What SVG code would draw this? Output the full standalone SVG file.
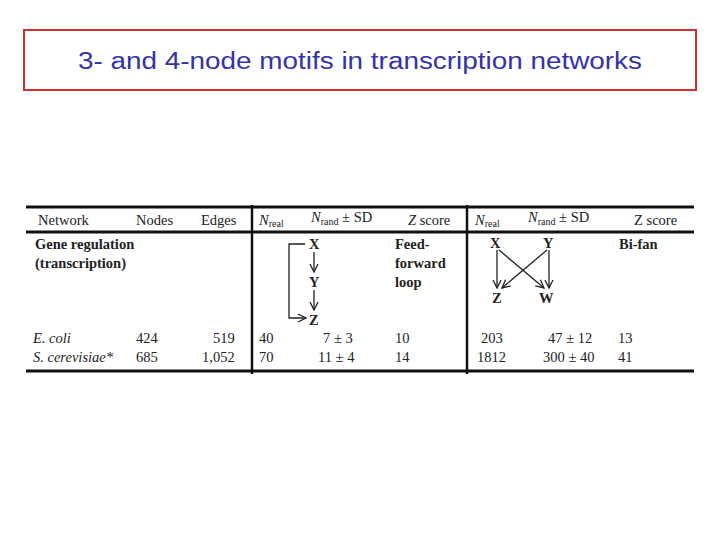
<svg xmlns="http://www.w3.org/2000/svg" width="720" height="540" viewBox="0 0 720 540">
<style>
.t{font-family:"Liberation Serif",serif;font-size:14.5px;fill:#222}
.b{font-weight:bold}
.i{font-style:italic}
.s{font-size:10px}
.l{stroke:#111;fill:none}
.a{stroke:#222;stroke-width:1.3;fill:none}
</style>
<defs><marker id="m" markerWidth="10" markerHeight="10" refX="9" refY="5" orient="auto" markerUnits="userSpaceOnUse"><path d="M1,1 L9,5 L1,9" fill="none" stroke="#222" stroke-width="1.3"/></marker></defs>
<rect x="0" y="0" width="720" height="540" fill="#fff"/>
<g id="title"><rect x="24" y="30" width="672" height="60" fill="#fff" stroke="#d03030" stroke-width="2"/>
<text x="360" y="69" text-anchor="middle" font-family="Liberation Sans,Arial,sans-serif" font-size="23" textLength="564" lengthAdjust="spacingAndGlyphs" fill="#3333aa">3- and 4-node motifs in transcription networks</text></g>
<g id="table">
<line class="l" x1="26" y1="207" x2="694" y2="207" stroke-width="3"/>
<line class="l" x1="26" y1="232" x2="694" y2="232" stroke-width="3"/>
<line class="l" x1="26" y1="371" x2="694" y2="371" stroke-width="3"/>
<line class="l" x1="252" y1="205" x2="252" y2="374" stroke-width="2.5"/>
<line class="l" x1="467" y1="205" x2="467" y2="374" stroke-width="2.5"/>
<text class="t" x="38" y="225">Network</text><text class="t" x="136" y="225">Nodes</text><text class="t" x="201" y="225">Edges</text>
<text class="t" x="259" y="225"><tspan class="i">N</tspan><tspan class="s" dy="2">real</tspan></text>
<text class="t" x="311" y="222"><tspan class="i">N</tspan><tspan class="s" dy="3">rand</tspan><tspan dy="-3"> ± SD</tspan></text>
<text class="t" x="408" y="225"><tspan class="i">Z</tspan> score</text>
<text class="t" x="475" y="225"><tspan class="i">N</tspan><tspan class="s" dy="2">real</tspan></text>
<text class="t" x="528" y="222"><tspan class="i">N</tspan><tspan class="s" dy="3">rand</tspan><tspan dy="-3"> ± SD</tspan></text>
<text class="t" x="634" y="225">Z score</text>
<text class="t b" x="35" y="249">Gene regulation</text><text class="t b" x="35" y="268">(transcription)</text>
<text class="t i" x="33" y="343">E. coli</text><text class="t" x="136" y="343">424</text><text class="t" x="213" y="343">519</text>
<text class="t" x="259" y="343">40</text><text class="t" x="323" y="343">7 ± 3</text><text class="t" x="395" y="343">10</text>
<text class="t" x="481" y="343">203</text><text class="t" x="548" y="343">47 ± 12</text><text class="t" x="618" y="343">13</text>
<text class="t i" x="33" y="362">S. cerevisiae*</text><text class="t" x="136" y="362">685</text><text class="t" x="202" y="362">1,052</text>
<text class="t" x="259" y="362">70</text><text class="t" x="318" y="362">11 ± 4</text><text class="t" x="395" y="362">14</text>
<text class="t" x="477" y="362">1812</text><text class="t" x="543" y="362">300 ± 40</text><text class="t" x="618" y="362">41</text>
</g>
<g id="ffl">
<text class="t b" x="309" y="249">X</text><text class="t b" x="309" y="287">Y</text><text class="t b" x="309" y="325">Z</text>
<text class="t b" x="395" y="249">Feed-</text><text class="t b" x="395" y="268">forward</text><text class="t b" x="395" y="287">loop</text>
</g>
<g id="bifan">
<text class="t b" x="490" y="248">X</text><text class="t b" x="543" y="248">Y</text><text class="t b" x="492" y="303">Z</text><text class="t b" x="539" y="303">W</text>
<text class="t b" x="619" y="249">Bi-fan</text>
</g>
<g id="connectors">
<line class="a" x1="314" y1="252" x2="314" y2="272" marker-end="url(#m)"/>
<line class="a" x1="314" y1="290" x2="314" y2="310" marker-end="url(#m)"/>
<path class="a" d="M305,244 H289 V318 H306" marker-end="url(#m)"/>
<line class="a" x1="497" y1="250" x2="497" y2="288" marker-end="url(#m)"/>
<line class="a" x1="549" y1="250" x2="549" y2="288" marker-end="url(#m)"/>
<line class="a" x1="499" y1="250" x2="544" y2="288" marker-end="url(#m)"/>
<line class="a" x1="547" y1="250" x2="502" y2="288" marker-end="url(#m)"/>
</g>
</svg>
